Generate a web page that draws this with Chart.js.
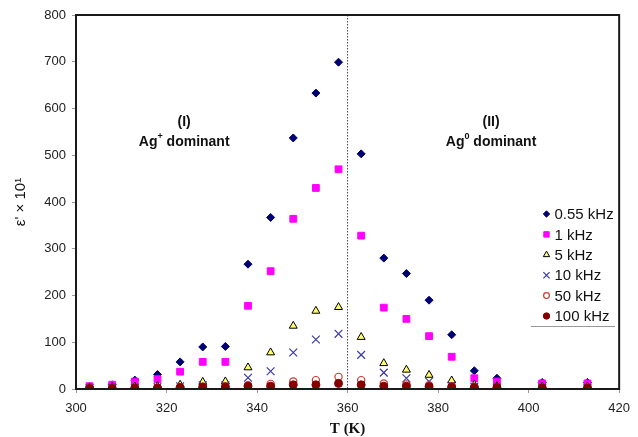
<!DOCTYPE html>
<html>
<head>
<meta charset="utf-8">
<script src="https://cdn.jsdelivr.net/npm/chart.js@4.4.1/dist/chart.umd.min.js"></script>
<style>
  html, body { margin: 0; padding: 0; background: #fff; }
  canvas { display: block; }
</style>
</head>
<body>
<canvas id="chart" width="638" height="437"></canvas>
<script>
// temperature (K) and dielectric constant values
const temps = [303, 308, 313, 318, 323, 328, 333, 338, 343, 348, 353, 358, 363, 368, 373, 378, 383, 388, 393, 403, 413];
const eps055 = [5, 9, 19, 31, 58, 90, 91, 267, 367, 537, 633, 699, 503, 280, 247, 190, 116, 39, 23, 14, 14];
const eps1 = [6, 9, 16, 21, 37, 58, 58, 178, 252, 364, 430, 470, 328, 174, 150, 113, 69, 23, 16, 12, 12];
const eps5 = [3, 4, 5, 6, 9, 15, 16, 46, 78, 135, 167, 175, 111, 55, 41, 30, 18, 9, 6, 5, 5];
const eps10 = [2, 3, 3, 4, 6, 8, 8, 24, 38, 78, 106, 118, 73, 35, 23, 16, 8, 5, 3, 3, 3];
const eps50 = [2, 2, 3, 3, 4, 5, 6, 8, 11, 16, 19, 26, 19, 12, 10, 8, 6, 5, 4, 3, 3];
const eps100 = [1, 1, 2, 2, 3, 4, 4, 6, 6, 9, 9, 12, 9, 6, 6, 5, 4, 3, 3, 2, 2];
const seriesLabels = ['0.55 kHz', '1 kHz', '5 kHz', '10 kHz', '50 kHz', '100 kHz'];
const boundaryT = 360;

const toPoints = (ys) => temps.map((t, i) => ({ x: t, y: ys[i] }));

const styles = [
  { pointStyle: 'rectRot', radius: 4, bg: '#000070', border: '#000070', bw: 1 },
  { pointStyle: 'rect', radius: 4.8, bg: '#ff00ff', border: '#ff00ff', bw: 1 },
  { pointStyle: 'triangle', radius: 4.6, bg: '#ffff66', border: '#000000', bw: 1 },
  { pointStyle: 'crossRot', radius: 5.5, bg: '#3a3aa0', border: '#3a3aa0', bw: 1.2 },
  { pointStyle: 'circle', radius: 3.6, bg: 'rgba(255,255,255,0)', border: '#c83a32', bw: 1.2 },
  { pointStyle: 'circle', radius: 4, bg: '#860000', border: '#860000', bw: 1 }
];
const allSeries = [eps055, eps1, eps5, eps10, eps50, eps100];

const datasets = allSeries.map((ys, i) => ({
  label: seriesLabels[i],
  data: toPoints(ys),
  showLine: false,
  pointStyle: styles[i].pointStyle,
  pointRadius: styles[i].radius,
  pointBackgroundColor: styles[i].bg,
  pointBorderColor: styles[i].border,
  pointBorderWidth: styles[i].bw,
  order: allSeries.length - i   // later series drawn on top, as in the original
}));

// region labels, in data coordinates
const regionNotes = [
  { x: 323.9, y: 570, parts: [['(I)', '']] },
  { x: 323.9, y: 527, parts: [['Ag', ''], ['+', 'sup'], [' dominant', '']] },
  { x: 391.7, y: 570, parts: [['(II)', '']] },
  { x: 391.7, y: 527, parts: [['Ag', ''], ['0', 'sup'], [' dominant', '']] }
];

const extras = {
  id: 'extras',
  beforeDatasetsDraw(chart) {
    const { ctx, chartArea: a, scales } = chart;
    // dotted boundary line
    const bx = scales.x.getPixelForValue(boundaryT);
    ctx.save();
    ctx.strokeStyle = '#444';
    ctx.lineWidth = 1;
    ctx.setLineDash([1.5, 1.5]);
    ctx.beginPath();
    ctx.moveTo(bx, a.top);
    ctx.lineTo(bx, a.bottom);
    ctx.stroke();
    ctx.restore();
  },
  afterDatasetsDraw(chart) {
    const { ctx, chartArea: a, scales } = chart;
    ctx.save();
    // frame
    ctx.strokeStyle = '#1a1a1a';
    ctx.lineWidth = 2;
    ctx.strokeRect(a.left, a.top, a.right - a.left, a.bottom - a.top);

    // region notes
    ctx.fillStyle = '#111';
    ctx.textBaseline = 'middle';
    regionNotes.forEach(n => {
      const px = scales.x.getPixelForValue(n.x);
      const py = scales.y.getPixelForValue(n.y);
      let total = 0;
      n.parts.forEach(([t, k]) => {
        ctx.font = k === 'sup' ? 'bold 9px "Liberation Sans", Arial' : 'bold 14px "Liberation Sans", Arial';
        total += ctx.measureText(t).width;
      });
      let cx = px - total / 2;
      ctx.textAlign = 'left';
      n.parts.forEach(([t, k]) => {
        ctx.font = k === 'sup' ? 'bold 9px "Liberation Sans", Arial' : 'bold 14px "Liberation Sans", Arial';
        ctx.fillText(t, cx, k === 'sup' ? py - 6 : py);
        cx += ctx.measureText(t).width;
      });
    });

    // legend
    const lx = 546.5, ly = 214, step = 20.4;
    ctx.font = '15px "Liberation Sans", Arial';
    ctx.textAlign = 'left';
    ctx.textBaseline = 'middle';
    seriesLabels.forEach((lab, i) => {
      const s = styles[i];
      const y = ly + i * step;
      ctx.fillStyle = s.bg;
      ctx.strokeStyle = s.border;
      ctx.lineWidth = s.bw;
      Chart.helpers.drawPoint(ctx, {
        pointStyle: s.pointStyle,
        radius: s.radius * 0.8,
        rotation: 0,
        borderWidth: s.bw
      }, lx, y);
      ctx.fillStyle = '#111';
      ctx.fillText(lab, lx + 8, y + 1);
    });
    ctx.strokeStyle = '#999';
    ctx.lineWidth = 1;
    ctx.beginPath();
    ctx.moveTo(531, ly + 5 * step + 10.5);
    ctx.lineTo(615, ly + 5 * step + 10.5);
    ctx.stroke();
    ctx.restore();
  }
};

new Chart(document.getElementById('chart'), {
  type: 'scatter',
  data: { datasets },
  options: {
    responsive: false,
    animation: false,
    devicePixelRatio: 1,
    layout: { padding: { top: 15, right: 10, left: 0, bottom: 0 } },
    plugins: {
      legend: { display: false },
      tooltip: { enabled: false }
    },
    scales: {
      x: {
        type: 'linear',
        min: 300,
        max: 420,
        afterFit: (s) => { s.height = 48; },
        border: { display: false },
        grid: { drawOnChartArea: false, tickLength: 4, color: '#999' },
        ticks: { stepSize: 20, padding: 8, color: '#222', font: { family: '"Liberation Sans", Arial', size: 13 } },
        title: {
          display: true,
          text: 'T (K)',
          color: '#111',
          padding: { top: 0, bottom: 0 },
          font: { family: '"Liberation Serif", "Times New Roman", serif', size: 15, weight: 'bold', lineHeight: 1 }
        }
      },
      y: {
        min: 0,
        max: 800,
        afterFit: (s) => { s.width = 76; },
        border: { display: false },
        grid: { drawOnChartArea: false, tickLength: 4, color: '#999' },
        ticks: { stepSize: 100, padding: 6, color: '#222', font: { family: '"Liberation Sans", Arial', size: 13 } },
        title: {
          display: true,
          text: "ε' × 10¹",
          color: '#111',
          padding: { top: 12, bottom: 0 },
          font: { family: '"Liberation Sans", Arial', size: 15, lineHeight: 1.2 }
        }
      }
    }
  },
  plugins: [extras]
});
</script>
</body>
</html>
